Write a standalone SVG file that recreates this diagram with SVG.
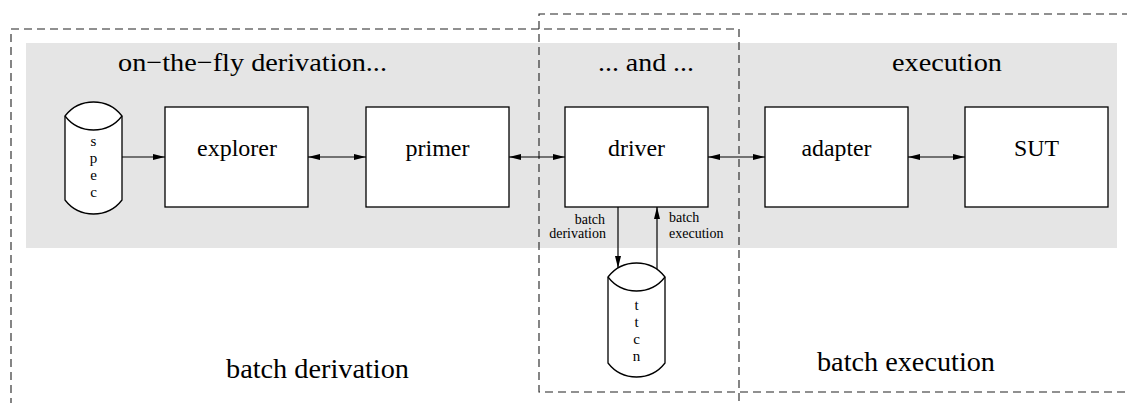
<svg xmlns="http://www.w3.org/2000/svg" width="1127" height="403" viewBox="0 0 1127 403">
  <style>
    .band { fill: #e5e5e5; }
    .frame { fill: none; stroke: #222; stroke-width: 1.1; stroke-dasharray: 8 5; }
    .box { fill: #fff; stroke: #000; stroke-width: 1.3; }
    .cyl { fill: #fff; stroke: #000; stroke-width: 1.3; }
    .lens { fill: none; stroke: #000; stroke-width: 1.3; }
    .link { fill: none; stroke: #000; stroke-width: 1.2; }
    text { font-family: "Liberation Serif", "Times New Roman", serif; fill: #000; }
    .title { font-size: 26px; }
    .label { font-size: 23px; text-anchor: middle; }
    .big { font-size: 27px; }
    .small { font-size: 14px; }
    .glyph { font-size: 15px; text-anchor: middle; }
  </style>
  <defs>
    <marker id="head" viewBox="0 0 12 6" refX="12" refY="3" markerWidth="12" markerHeight="6" markerUnits="userSpaceOnUse" orient="auto-start-reverse">
      <path d="M0,0 L12,3 L0,6 Z" fill="#000"/>
    </marker>
  </defs>

  <!-- shaded on-line area -->
  <rect class="band" x="26" y="43" width="1091" height="205"/>

  <!-- batch regions -->
  <g id="regions">
    <path class="frame" d="M11,406 L11,29 L739,29 L739,406"/>
    <path class="frame" d="M1130,14 L539,14 L539,392 L1130,392"/>
  </g>

  <!-- section headings -->
  <g id="headings">
    <text class="title" x="118" y="71" textLength="269" lengthAdjust="spacingAndGlyphs">on−the−fly derivation...</text>
    <text class="title" x="598" y="71" textLength="96" lengthAdjust="spacingAndGlyphs">... and ...</text>
    <text class="title" x="892" y="71" textLength="110" lengthAdjust="spacingAndGlyphs">execution</text>
    <text class="big" x="226" y="378" textLength="183" lengthAdjust="spacingAndGlyphs">batch derivation</text>
    <text class="big" x="817" y="371" textLength="178" lengthAdjust="spacingAndGlyphs">batch execution</text>
  </g>

  <!-- connectors -->
  <g id="connectors">
    <line class="link" x1="122" y1="157" x2="165" y2="157" marker-end="url(#head)"/>
    <line class="link" x1="308" y1="157" x2="366" y2="157" marker-start="url(#head)" marker-end="url(#head)"/>
    <line class="link" x1="509" y1="157" x2="565" y2="157" marker-start="url(#head)" marker-end="url(#head)"/>
    <line class="link" x1="708" y1="157" x2="765" y2="157" marker-start="url(#head)" marker-end="url(#head)"/>
    <line class="link" x1="908" y1="157" x2="965" y2="157" marker-start="url(#head)" marker-end="url(#head)"/>
    <line class="link" x1="618" y1="207" x2="618" y2="268" marker-end="url(#head)"/>
    <line class="link" x1="657" y1="269" x2="657" y2="207" marker-end="url(#head)"/>
    <text class="small" x="605" y="224" text-anchor="end">batch</text>
    <text class="small" x="606" y="238" text-anchor="end">derivation</text>
    <text class="small" x="669" y="222">batch</text>
    <text class="small" x="669" y="238">execution</text>
  </g>

  <!-- specification store -->
  <g id="spec">
    <path class="cyl" d="M65,116 A36,36 0 0 1 122,116 L122,200 A36,36 0 0 1 65,200 Z"/>
    <path class="lens" d="M65,116 A36,36 0 0 0 122,116"/>
    <text class="glyph" x="93.5" y="146">s</text>
    <text class="glyph" x="93.5" y="163">p</text>
    <text class="glyph" x="93.5" y="180">e</text>
    <text class="glyph" x="93.5" y="197">c</text>
  </g>

  <g id="explorer">
    <rect class="box" x="165" y="107" width="143" height="100"/>
    <text class="label" x="237" y="156" textLength="80" lengthAdjust="spacingAndGlyphs">explorer</text>
  </g>

  <g id="primer">
    <rect class="box" x="366" y="107" width="143" height="100"/>
    <text class="label" x="437.5" y="156" textLength="64" lengthAdjust="spacingAndGlyphs">primer</text>
  </g>

  <g id="driver">
    <rect class="box" x="565" y="107" width="143" height="100"/>
    <text class="label" x="636.5" y="156" textLength="57" lengthAdjust="spacingAndGlyphs">driver</text>
  </g>

  <g id="adapter">
    <rect class="box" x="765" y="107" width="143" height="100"/>
    <text class="label" x="836.5" y="156" textLength="70" lengthAdjust="spacingAndGlyphs">adapter</text>
  </g>

  <g id="sut">
    <rect class="box" x="965" y="107" width="143" height="100"/>
    <text class="label" x="1036.5" y="156" textLength="45" lengthAdjust="spacingAndGlyphs">SUT</text>
  </g>

  <!-- test-suite store -->
  <g id="ttcn">
    <path class="cyl" d="M608,277 A36,36 0 0 1 665,277 L665,363 A36,36 0 0 1 608,363 Z"/>
    <path class="lens" d="M608,277 A36,36 0 0 0 665,277"/>
    <text class="glyph" x="636.5" y="310">t</text>
    <text class="glyph" x="636.5" y="327">t</text>
    <text class="glyph" x="636.5" y="344">c</text>
    <text class="glyph" x="636.5" y="361">n</text>
  </g>
</svg>
